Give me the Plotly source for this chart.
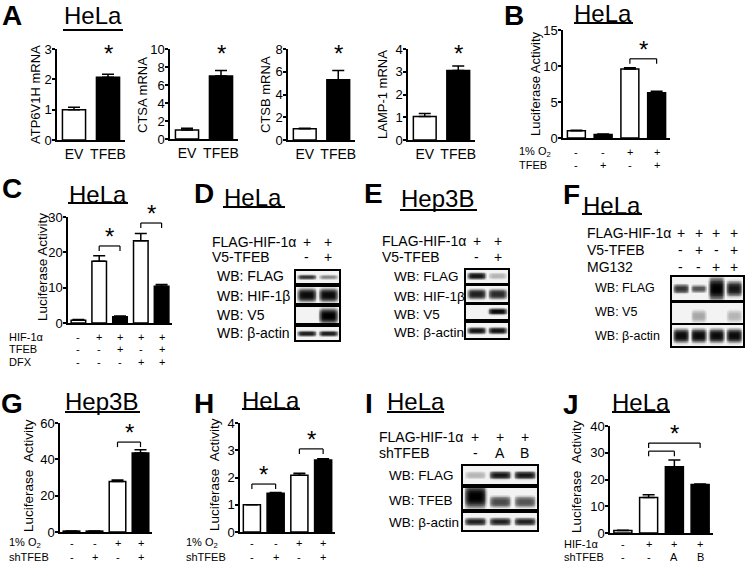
import numpy as np
import plotly.graph_objects as go

W, H = 745, 563
FONT = "Liberation Sans, Arial, sans-serif"

# ---------------- data ----------------
A_groups = ["EV", "TFEB"]
A1_vals, A1_err = [1.0, 2.07], [0.08, 0.10]
A2_vals, A2_err = [1.0, 7.0], [0.20, 0.60]
A3_vals, A3_err = [1.0, 5.3], [0.03, 0.80]
A4_vals, A4_err = [1.03, 3.05], [0.13, 0.20]
A_titles = ["ATP6V1H mRNA", "CTSA mRNA", "CTSB mRNA", "LAMP-1 mRNA"]

B_vals, B_err = [1.0, 0.5, 9.6, 6.3], [0.08, 0.05, 0.15, 0.20]
B_o2 = ["-", "-", "+", "+"]
B_tfeb = ["-", "+", "-", "+"]

C_vals, C_err = [0.8, 17.5, 1.8, 23.3, 10.4], [0.2, 1.5, 0.2, 2.0, 0.5]
C_hif = ["-", "+", "+", "+", "+"]
C_tfeb = ["-", "-", "+", "-", "+"]
C_dfx = ["-", "-", "-", "+", "+"]

G_vals, G_err = [0.5, 0.5, 27.8, 43.5], [0.1, 0.1, 0.8, 1.8]
G_o2 = ["-", "-", "+", "+"]
G_sh = ["-", "+", "-", "+"]

H_vals, H_err = [1.0, 1.42, 2.08, 2.64], [0.0, 0.03, 0.08, 0.05]
H_o2 = ["-", "-", "+", "+"]
H_sh = ["-", "+", "-", "+"]

J_vals, J_err = [0.9, 13.3, 24.8, 18.1], [0.1, 1.0, 2.5, 0.2]
J_hif = ["-", "+", "+", "+"]
J_sh = ["-", "-", "A", "B"]

# western blot band intensities (0 = none, 1 = saturated), per lane
D_lanes = {"FLAG-HIF-1α": ["+", "+"], "V5-TFEB": ["-", "+"]}
D_FLAG, D_HIF1B, D_V5, D_ACTIN = [0.75, 0.4], [0.95, 0.95], [0.0, 1.0], [0.85, 0.85]
E_lanes = {"FLAG-HIF-1α": ["+", "+"], "V5-TFEB": ["-", "+"]}
E_FLAG, E_HIF1B, E_V5, E_ACTIN = [0.9, 0.25], [0.85, 0.8], [0.0, 0.95], [0.9, 0.9]
F_lanes = {"FLAG-HIF-1α": ["+", "+", "+", "+"], "V5-TFEB": ["-", "+", "-", "+"],
           "MG132": ["-", "-", "+", "+"]}
F_FLAG, F_V5, F_ACTIN = [0.75, 0.6, 1.0, 0.9], [0.0, 0.3, 0.0, 0.25], [0.95, 0.95, 0.95, 0.95]
I_lanes = {"FLAG-HIF-1α": ["+", "+", "+"], "shTFEB": ["-", "A", "B"]}
I_FLAG, I_TFEB, I_ACTIN = [0.25, 0.9, 0.9], [1.0, 0.65, 0.6], [0.85, 0.85, 0.85]

# ---------------- helpers ----------------
fig = go.Figure()
layout = dict(width=W, height=H, margin=dict(l=0, r=0, t=0, b=0, pad=0), autosize=False,
              paper_bgcolor="white", plot_bgcolor="white", showlegend=False,
              font=dict(family=FONT, color="black"))
annotations, shapes = [], []
counter = [0]


def px(x):
    return x / W


def py(y):
    return 1 - y / H


def txt(text, x, y, size, xanchor="center", xref="paper", angle=0, yanchor="middle"):
    annotations.append(dict(text=text, x=(px(x) if xref == "paper" else x), y=py(y),
                            xref=xref, yref="paper", showarrow=False, xanchor=xanchor,
                            yanchor=yanchor, textangle=angle,
                            font=dict(size=size, family=FONT, color="black")))


def new_axes(x0, x1, y0, y1, xkw, ykw):
    counter[0] += 1
    n = counter[0]
    s = "" if n == 1 else str(n)
    layout["xaxis" + s] = dict(domain=[px(x0), px(x1)], anchor="y" + s, automargin=False, **xkw)
    layout["yaxis" + s] = dict(domain=[py(y1), py(y0)], anchor="x" + s, automargin=False, **ykw)
    return "x" + s, "y" + s


def bar_panel(box, vals, errs, colors, ymax, dtick, width=0.68, ticktext=None):
    x0, x1, y0, y1 = box
    n = len(vals)
    xkw = dict(range=[-0.5, n - 0.5], showline=True, linecolor="black", linewidth=1.5,
               ticks="", showgrid=False, zeroline=False, fixedrange=True,
               showticklabels=ticktext is not None)
    if ticktext is not None:
        xkw.update(tickvals=list(range(n)), ticktext=ticktext,
                   tickfont=dict(size=14, family=FONT, color="black"))
    ykw = dict(range=[0, ymax], dtick=dtick, tick0=0, showline=True, linecolor="black",
               linewidth=1.5, ticks="outside", ticklen=3, tickwidth=1.5, tickcolor="black",
               ticklabelstandoff=-2,
               showgrid=False, zeroline=False, fixedrange=True,
               tickfont=dict(size=13, family=FONT, color="black"))
    xa, ya = new_axes(x0, x1, y0, y1, xkw, ykw)
    fig.add_trace(go.Bar(x=list(range(n)), y=vals, width=width, xaxis=xa, yaxis=ya,
                         marker=dict(color=colors, line=dict(color="black", width=1.5)),
                         error_y=dict(type="data", array=errs, arrayminus=[0] * n,
                                      symmetric=False, color="black", thickness=1.5, width=6),
                         hoverinfo="skip"))
    return xa, ya


def bracket(xa, ya, xl, xr, yv, leg=5, star=True):
    shapes.append(dict(type="line", xref=xa, yref=ya, x0=xl, x1=xr, y0=yv, y1=yv,
                       line=dict(color="black", width=1.2)))
    for xx in (xl, xr):
        shapes.append(dict(type="line", xref=xa, yref=ya, ysizemode="pixel", yanchor=yv,
                           x0=xx, x1=xx, y0=0, y1=-leg, line=dict(color="black", width=1.2)))
    if star:
        add_star(xa, ya, (xl + xr) / 2, yv)


def add_star(xa, ya, xv, yv):
    annotations.append(dict(text="*", x=xv, y=yv, xref=xa, yref=ya, showarrow=False,
                            yanchor="bottom", yshift=-6,
                            font=dict(size=24, family=FONT, color="black")))


def row_labels(xa, name, marks, xleft, y, size=11, offset=0):
    txt(name, xleft, y, size, xanchor="left")
    for i, m in enumerate(marks):
        txt(m, i + offset, y, size, xref=xa)


def title(letter, lx, ly, name, tx, ty, ux0, ux1, uy):
    txt("<b>" + letter + "</b>", lx, ly, 28)
    txt(name, tx, ty, 24)
    shapes.append(dict(type="line", xref="paper", yref="paper", x0=px(ux0), x1=px(ux1),
                       y0=py(uy), y1=py(uy), line=dict(color="black", width=2)))


def blot(xr, yr, intens, yc=0.5, hw=0.3, lw=0.42, bg=0.04):
    x0, x1 = xr
    y0, y1 = yr
    n = len(intens)
    xkw = dict(range=[0.5, n + 0.5], showline=True, mirror=True, linecolor="black",
               linewidth=1.8, ticks="", showticklabels=False, showgrid=False,
               zeroline=False, fixedrange=True)
    ykw = dict(range=[0, 1], showline=True, mirror=True, linecolor="black",
               linewidth=1.8, ticks="", showticklabels=False, showgrid=False,
               zeroline=False, fixedrange=True)
    xa, ya = new_axes(x0, x1, y0, y1, xkw, ykw)
    xs = np.linspace(0.5, n + 0.5, 30 * n)
    ys = np.linspace(0, 1, 32)
    X, Y = np.meshgrid(xs, ys)
    Z = np.full(X.shape, bg)
    ycs = yc if isinstance(yc, list) else [yc] * n
    hws = hw if isinstance(hw, list) else [hw] * n
    for k, I in enumerate(intens):
        band = I * np.exp(-np.abs((X - (k + 1)) / lw) ** 6) * np.exp(-np.abs((Y - ycs[k]) / hws[k]) ** 3)
        Z = np.maximum(Z, band)
    fig.add_trace(go.Heatmap(x=xs, y=ys, z=Z, zmin=0, zmax=1, xaxis=xa, yaxis=ya,
                             colorscale=[[0, "white"], [0.5, "#6a6a6a"], [1, "black"]],
                             showscale=False, zsmooth="best", hoverinfo="skip"))
    return xa, ya


WHITE, BLACK = "white", "black"

# ---------------- Panel A ----------------
title("A", 12, 16, "HeLa", 93, 16, 63, 123, 30)
A_boxes = [(57, 125, 49, 140), (170, 238, 49, 139), (288, 355, 49, 140), (408, 475, 49, 140)]
A_data = [(A1_vals, A1_err, 3, 1, 2.55), (A2_vals, A2_err, 10, 2, 8.5),
          (A3_vals, A3_err, 8, 2, 6.8), (A4_vals, A4_err, 4, 1, 3.4)]
A_ytitle_x = [36, 143, 266, 383]
for box, (v, e, ym, dt, sy), tt, tx in zip(A_boxes, A_data, A_titles, A_ytitle_x):
    xa, ya = bar_panel(box, v, e, [WHITE, BLACK], ym, dt, width=0.68, ticktext=A_groups)
    add_star(xa, ya, 1, sy)
    txt(tt, tx, 95, 13, angle=-90)

# ---------------- Panel B ----------------
title("B", 514, 16, "HeLa", 603, 14, 574, 633, 23)
xa, ya = bar_panel((563, 670, 30, 138), B_vals, B_err, [WHITE, BLACK, WHITE, BLACK], 15, 5, width=0.67)
bracket(xa, ya, 2, 3, 11.0)
txt("Luciferase Activity", 535, 84, 13, angle=-90)
row_labels(xa, "1% O<sub>2</sub>", B_o2, 517, 152)
row_labels(xa, "TFEB", B_tfeb, 517, 165)

# ---------------- Panel C ----------------
title("C", 12, 188, "HeLa", 98, 194, 68, 128, 203)
xa, ya = bar_panel((68, 172, 217, 323), C_vals, C_err, [WHITE, WHITE, BLACK, WHITE, BLACK], 30, 10, width=0.7)
bracket(xa, ya, 1, 2, 21.8)
bracket(xa, ya, 3, 4, 28.3)
txt("Luciferase Activity", 42, 267, 13.5, angle=-90)
row_labels(xa, "HIF-1α", C_hif, 7, 337)
row_labels(xa, "TFEB", C_tfeb, 7, 349)
row_labels(xa, "DFX", C_dfx, 7, 362)

# ---------------- Panel D ----------------
title("D", 204, 193, "HeLa", 253, 197, 223, 285, 207)
d1 = blot((296, 339), (271, 283), D_FLAG, yc=0.5, hw=0.18)
blot((296, 339), (287, 303), D_HIF1B, yc=0.5, hw=0.4)
blot((296, 339), (307, 323), D_V5, yc=0.45, hw=0.45)
blot((296, 339), (327, 340), D_ACTIN, yc=0.5, hw=0.2)
for (name, marks), yy in zip(D_lanes.items(), [242, 257]):
    row_labels(d1[0], name, marks, 210, yy, size=14, offset=1)
for name, yy in zip(["WB: FLAG", "WB: HIF-1β", "WB: V5", "WB: β-actin"], [276, 296, 315, 333]):
    txt(name, 215, yy, 14, xanchor="left")

# ---------------- Panel E ----------------
title("E", 373, 193, "Hep3B", 437, 198, 400, 477, 210)
e1 = blot((466, 508), (270, 283), E_FLAG, yc=0.55, hw=0.25)
blot((466, 508), (286, 302), E_HIF1B, yc=0.5, hw=0.3)
blot((466, 508), (305, 319), E_V5, yc=0.55, hw=0.22)
blot((466, 508), (323, 338), E_ACTIN, yc=0.5, hw=0.2)
for (name, marks), yy in zip(E_lanes.items(), [241, 257]):
    row_labels(e1[0], name, marks, 380, yy, size=14, offset=1)
for name, yy in zip(["WB: FLAG", "WB: HIF-1β", "WB: V5", "WB: β-actin"], [277, 296, 314, 332]):
    txt(name, 392, yy, 13.5, xanchor="left")

# ---------------- Panel F ----------------
title("F", 571, 194, "HeLa", 612, 205, 582, 642, 214)
f1 = blot((672, 743), (277, 300), F_FLAG, yc=0.5, hw=[0.18, 0.15, 0.45, 0.3])
blot((672, 743), (303, 323), F_V5, yc=0.35, hw=0.3)
blot((672, 743), (325, 346), F_ACTIN, yc=0.5, hw=0.3)
for (name, marks), yy in zip(F_lanes.items(), [233, 250, 267]):
    row_labels(f1[0], name, marks, 585, yy, size=14, offset=1)
for name, yy in zip(["WB: FLAG", "WB: V5", "WB: β-actin"], [288, 312, 336]):
    txt(name, 593, yy, 12.5, xanchor="left")

# ---------------- Panel G ----------------
title("G", 12, 403, "Hep3B", 101, 401, 65, 140, 412)
xa, ya = bar_panel((60, 152, 423, 532), G_vals, G_err, [WHITE, BLACK, WHITE, BLACK], 60, 20, width=0.72)
bracket(xa, ya, 2, 3, 49.5)
txt("Luciferase\u00a0\u00a0Activity", 28, 475, 13.5, angle=-90)
row_labels(xa, "1% O<sub>2</sub>", G_o2, 7, 543)
row_labels(xa, "shTFEB", G_sh, 7, 557)

# ---------------- Panel H ----------------
title("H", 204, 403, "HeLa", 271, 400, 242, 300, 409)
xa, ya = bar_panel((240, 335, 423, 532), H_vals, H_err, [WHITE, BLACK, WHITE, BLACK], 4, 1, width=0.72)
bracket(xa, ya, 0, 1, 1.76)
bracket(xa, ya, 2, 3, 3.05)
txt("Luciferase\u00a0\u00a0Activity", 214, 475, 13.5, angle=-90)
row_labels(xa, "1% O<sub>2</sub>", H_o2, 184, 543)
row_labels(xa, "shTFEB", H_sh, 184, 557)

# ---------------- Panel I ----------------
title("I", 369, 403, "HeLa", 416, 401, 387, 444, 412)
i1 = blot((463, 537), (466, 484), I_FLAG, yc=0.5, hw=0.2)
blot((463, 537), (488, 509), I_TFEB, yc=[0.6, 0.35, 0.35], hw=[0.5, 0.25, 0.25])
blot((463, 537), (513, 530), I_ACTIN, yc=0.5, hw=0.2)
for (name, marks), yy in zip(I_lanes.items(), [437, 453]):
    row_labels(i1[0], name, marks, 377, yy, size=14, offset=1)
for name, yy in zip(["WB: FLAG", "WB: TFEB", "WB: β-actin"], [475, 500, 522]):
    txt(name, 387, yy, 13.5, xanchor="left")

# ---------------- Panel J ----------------
title("J", 571, 404, "HeLa", 641, 402, 612, 670, 412)
xa, ya = bar_panel((610, 713, 426, 533), J_vals, J_err, [WHITE, WHITE, BLACK, BLACK], 40, 10, width=0.7)
bracket(xa, ya, 1, 2, 30.6, star=False)
bracket(xa, ya, 1, 3, 33.6)
txt("Luciferase\u00a0\u00a0Activity", 576, 477, 13.5, angle=-90)
row_labels(xa, "HIF-1α", J_hif, 562, 544)
row_labels(xa, "shTFEB", J_sh, 562, 557)

layout["annotations"] = annotations
layout["shapes"] = shapes
fig.update_layout(**layout)
fig.write_html("out.html", config={"responsive": False, "displayModeBar": False},
               post_script="document.body.style.margin='0';document.body.style.overflow='hidden';")
